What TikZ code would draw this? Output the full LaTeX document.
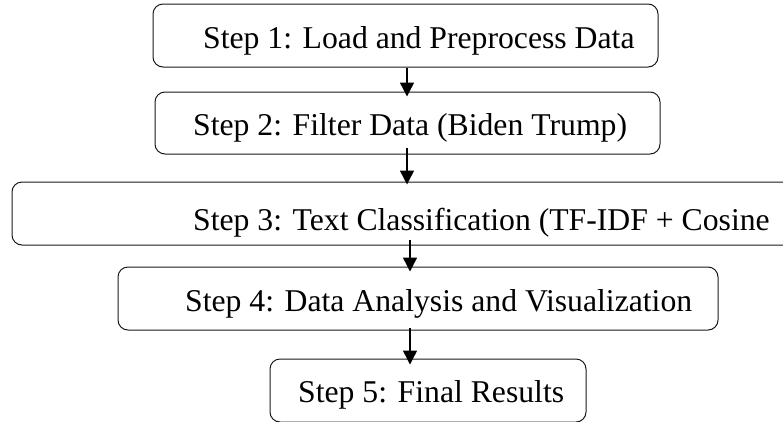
\documentclass[tikz,border=0pt]{standalone}
\usepackage{fontspec}
\setmainfont{Liberation Serif}
\usetikzlibrary{arrows.meta}
\tikzset{
  stepbox/.style={draw=black!90, line width=1pt, rounded corners=10pt, rectangle, inner sep=0pt},
  steplbl/.style={inner sep=0pt, anchor=base west, font=\fontsize{31.7}{38}\selectfont},
  flow/.style={line width=1.4pt, -{Triangle[width=14pt,length=14pt]}},
}
\begin{document}
\begin{tikzpicture}[x=1pt,y=-1pt]
\useasboundingbox (0,0) rectangle (783,421);
\clip (0,0) rectangle (783,421);
\coordinate (axa) at (407,0);
\coordinate (axb) at (410,0);
\node[stepbox, minimum width=505pt, minimum height=63pt] (b1) at (405.5,35.5) {};
\node[stepbox, minimum width=505pt, minimum height=62pt] (b2) at (407.5,123) {};
\node[stepbox, minimum width=788pt, minimum height=63pt] (b3) at (406,213.5) {};
\node[stepbox, minimum width=600pt, minimum height=63pt] (b4) at (418,298.5) {};
\node[stepbox, minimum width=316pt, minimum height=63pt] (b5) at (428,390.5) {};
\node[steplbl] (t1) at (203,48) {Step 1: Load and Preprocess Data};
\node[steplbl] (t2) at (193,135) {Step 2: Filter Data (Biden Trump)};
\node[steplbl] (t3) at (193,230) {Step 3: Text Classification (TF-IDF + Cosine};
\node[steplbl] (t4) at (185,311) {Step 4: Data Analysis and Visualization};
\node[steplbl] (t5) at (298,402) {Step 5: Final Results};
\draw[flow, shorten >=-5pt] (b1.south -| axa) -- (b2.north -| axa);
\draw[flow, shorten <=-7pt, shorten >=-3pt] (b2.south -| axa) -- (b3.north -| axa);
\draw[flow, shorten <=-6pt, shorten >=-5pt] (b3.south -| axb) -- (b4.north -| axb);
\draw[flow, shorten <=-3pt, shorten >=-6pt] (b4.south -| axb) -- (b5.north -| axb);
\end{tikzpicture}
\end{document}
